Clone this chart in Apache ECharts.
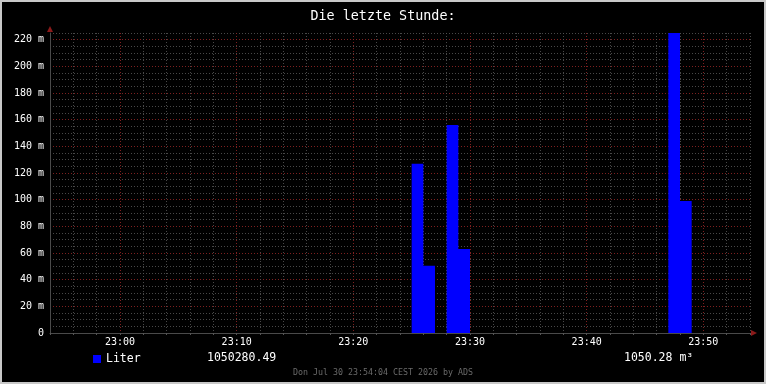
<!DOCTYPE html>
<html>
<head>
<meta charset="utf-8">
<script src="https://cdn.jsdelivr.net/npm/echarts@6/dist/echarts.min.js"></script>
<style>
html,body{margin:0;padding:0;background:#000;}
#c{width:766px;height:384px;}
</style>
</head>
<body>
<div id="c"></div>
<script>
// ---- data ----
const titleText = 'Die letzte Stunde:';
const windowStart = '22:54';          // left edge of plot
const windowMinutes = 60;             // one hour
const barTimes = ['23:25', '23:26', '23:28', '23:29', '23:47', '23:48']; // start of each 1-minute step
const barValues = [127, 50.5, 156, 63, 225, 99];                         // milli-litre units ("m"); all other minutes are 0
const yMax = 225;
const legendName = 'Liter';
const legendTotal = '1050280.49';
const legendM3 = '1050.28 m³';
const footerText = 'Don Jul 30 23:54:04 CEST 2026 by ADS';

function toMin(t){ const [h,m]=t.split(':').map(Number); return h*60+m; }
const startMin = toMin(windowStart);
const valueAt = new Map(barTimes.map((t,i)=>[toMin(t)-startMin, barValues[i]]));
// step series: each minute's value holds until the next minute (empty minutes read as 0)
const stepData = [];
for (let m = 0; m <= windowMinutes; m++) stepData.push([m, valueAt.has(m) ? valueAt.get(m) : 0]);

const MONO = '"DejaVu Sans Mono", "Liberation Mono", monospace';
const minorC = 'rgba(85,85,85,0.85)';
const majorC = 'rgba(140,35,35,0.9)';

const chart = echarts.init(document.getElementById('c'), null, {renderer:'canvas'});
chart.setOption({
  backgroundColor: '#000',
  animation: false,
  title: {
    text: titleText, left: 'center', top: 5,
    textStyle: {color:'#fff', fontFamily: MONO, fontSize: 13.4, fontWeight: 'normal'}
  },
  grid: {left: 50, right: 16, top: 33, bottom: 51, containLabel: false},
  xAxis: {
    type: 'value', min: 0, max: windowMinutes, interval: 2,
    axisLine: {show: true, lineStyle: {color: '#4a4a4a', width: 1}},
    axisTick: {show: true, length: 2, lineStyle: {color: '#555'}},
    axisLabel: {
      color: '#fff', fontFamily: MONO, fontSize: 10, margin: 4,
      formatter: v => {
        const t = startMin + v;
        if (t % 10 !== 0) return '';
        const h = Math.floor(t/60) % 24, m = t % 60;
        return String(h).padStart(2,'0') + ':' + String(m).padStart(2,'0');
      }
    },
    splitLine: {show: true, lineStyle: {color: [minorC, minorC, minorC, majorC, minorC], type: [1,2], width: 1}}
  },
  yAxis: {
    type: 'value', min: 0, max: yMax, interval: 5,
    axisLine: {show: true, lineStyle: {color: '#4a4a4a', width: 1}},
    axisTick: {show: false},
    axisLabel: {
      color: '#fff', fontFamily: MONO, fontSize: 10, margin: 6,
      formatter: v => (v % 20 !== 0) ? '' : (v === 0 ? '0' : v + ' m')
    },
    splitLine: {show: true, lineStyle: {color: [majorC, minorC, minorC, minorC], type: [1,2], width: 1}}
  },
  legend: {
    show: true, left: 88, top: 348, itemWidth: 8, itemHeight: 8, itemGap: 7,
    icon: 'rect',
    textStyle: {color: '#fff', fontFamily: MONO, fontSize: 11.5},
    data: [{name: legendName, icon: 'rect', itemStyle: {color: '#0000ff'}}]
  },
  series: [{
    type: 'line', name: legendName, step: 'end',
    data: stepData,
    showSymbol: false, symbol: 'none',
    color: '#0000ff',
    lineStyle: {width: 0, color: '#0000ff'},
    areaStyle: {color: '#0000ff', opacity: 1, origin: 'start'},
    itemStyle: {color: '#0000ff'}
  }],
  graphic: [
    {type: 'rect', shape: {x: 1, y: 1, width: 764, height: 382}, style: {fill: 'none', stroke: '#c8c8c8', lineWidth: 2}, silent: true, z: 100},
    {type: 'polygon', shape: {points: [[47, 32], [53, 32], [50, 26]]}, style: {fill: '#8b1a1a'}, z: 50},
    {type: 'polygon', shape: {points: [[751, 330], [751, 336], [757, 333]]}, style: {fill: '#8b1a1a'}, z: 50},
    {type: 'text', left: 207, top: 352, style: {text: legendTotal, fill: '#fff', font: '11.5px ' + MONO}},
    {type: 'text', left: 624, top: 352, style: {text: legendM3, fill: '#fff', font: '11.5px ' + MONO}},
    {type: 'text', left: 'center', top: 369, style: {text: footerText, fill: '#6a6a6a', font: '8.3px ' + MONO}}
  ]
});
</script>
</body>
</html>
